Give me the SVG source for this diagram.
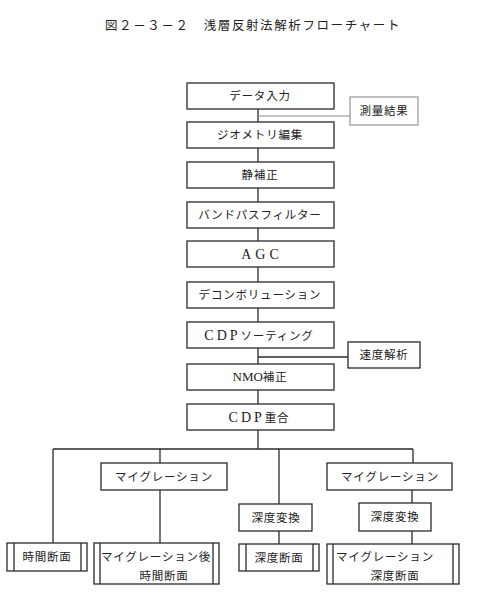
<svg xmlns="http://www.w3.org/2000/svg" width="487" height="604" viewBox="0 0 487 604">
<style>
.b{fill:#fff;stroke:#2a2a2a;stroke-width:1.3}
.g{fill:#fff;stroke:#8a8a8a;stroke-width:1.1}
.c line{stroke:#2a2a2a;stroke-width:1.3}
.t{font-family:"Noto Sans CJK JP","Liberation Sans",sans-serif;font-size:11.5px;fill:#222;text-anchor:middle;letter-spacing:0.8px}
.l{font-family:"Liberation Serif","Noto Sans CJK JP",serif;font-size:14px;fill:#222;text-anchor:middle;letter-spacing:4px}
.ti{font-family:"Noto Sans CJK JP","Liberation Sans",sans-serif;font-size:12.5px;fill:#222;letter-spacing:1.6px}
.lat{font-family:"Liberation Serif",serif;font-size:14px;letter-spacing:3px}
</style>
<rect width="487" height="604" fill="#fff"/>
<text class="ti" x="105" y="30">図２－３－２　浅層反射法解析フローチャート</text>
<g class="c" id="connectors">
<line x1="258" y1="109" x2="258" y2="122"/>
<line x1="258" y1="116" x2="350" y2="116" style="stroke:#8a8a8a;stroke-width:1.1"/>
<line x1="258" y1="148" x2="258" y2="162"/>
<line x1="258" y1="188" x2="258" y2="202"/>
<line x1="258" y1="228" x2="258" y2="241"/>
<line x1="258" y1="267" x2="258" y2="282"/>
<line x1="258" y1="308" x2="258" y2="322"/>
<line x1="258" y1="348" x2="258" y2="364"/>
<line x1="258" y1="357" x2="348" y2="357"/>
<line x1="258" y1="390" x2="258" y2="404"/>
<line x1="258" y1="430" x2="258" y2="449"/>
<line x1="53" y1="449" x2="413" y2="449"/>
<line x1="53" y1="449" x2="53" y2="543"/>
<line x1="160" y1="449" x2="160" y2="463"/>
<line x1="160" y1="490" x2="160" y2="543"/>
<line x1="279" y1="449" x2="279" y2="504"/>
<line x1="279" y1="531" x2="279" y2="544"/>
<line x1="413" y1="449" x2="413" y2="463"/>
<line x1="412" y1="490" x2="412" y2="503"/>
<line x1="412" y1="531" x2="412" y2="544"/>
</g>
<g id="n1"><rect class="b" x="187" y="83" width="147" height="26"/><text class="t" x="260" y="100">データ入力</text></g>
<g id="n_survey"><rect class="g" x="350" y="97" width="68" height="28"/><text class="t" x="384" y="115">測量結果</text></g>
<g id="n2"><rect class="b" x="187" y="122" width="147" height="26"/><text class="t" x="260" y="139">ジオメトリ編集</text></g>
<g id="n3"><rect class="b" x="187" y="162" width="147" height="26"/><text class="t" x="260" y="179">静補正</text></g>
<g id="n4"><rect class="b" x="187" y="202" width="147" height="26"/><text class="t" x="260" y="219">バンドパスフィルター</text></g>
<g id="n5"><rect class="b" x="187" y="241" width="147" height="26"/><text class="l" x="262" y="259">AGC</text></g>
<g id="n6"><rect class="b" x="187" y="282" width="147" height="26"/><text class="t" x="260" y="299">デコンボリューション</text></g>
<g id="n7"><rect class="b" x="187" y="322" width="147" height="26"/><text class="t" x="259" y="340"><tspan class="lat">CDP</tspan>ソーティング</text></g>
<g id="n_vel"><rect class="b" x="348" y="342" width="72" height="26"/><text class="t" x="384" y="359">速度解析</text></g>
<g id="n8"><rect class="b" x="187" y="364" width="147" height="26"/><text class="t" x="260" y="381"><tspan style="font-family:'Liberation Serif',serif;font-size:13px;letter-spacing:0">NMO</tspan>補正</text></g>
<g id="n9"><rect class="b" x="187" y="404" width="147" height="26"/><text class="t" x="259" y="422"><tspan class="lat">CDP</tspan>重合</text></g>
<g id="m1"><rect class="b" x="101" y="463" width="126" height="27"/><text class="t" x="164" y="481">マイグレーション</text></g>
<g id="m2"><rect class="b" x="327" y="463" width="125" height="27"/><text class="t" x="390" y="481">マイグレーション</text></g>
<g id="d1"><rect class="b" x="239" y="504" width="73" height="27"/><text class="t" x="276" y="522">深度変換</text></g>
<g id="d2"><rect class="b" x="359" y="503" width="72" height="28"/><text class="t" x="395" y="521">深度変換</text></g>
<g id="o1"><rect class="b" x="7" y="543" width="80" height="28"/><line class="b" x1="14" y1="543" x2="14" y2="571"/><line class="b" x1="81" y1="543" x2="81" y2="571"/><text class="t" x="47" y="561">時間断面</text></g>
<g id="o2"><rect class="b" x="94" y="543" width="125" height="41"/><line class="b" x1="100" y1="543" x2="100" y2="584"/><line class="b" x1="213" y1="543" x2="213" y2="584"/><text class="t" x="156" y="561">マイグレーション後</text><text class="t" x="164" y="580">時間断面</text></g>
<g id="o3"><rect class="b" x="239" y="544" width="80" height="27"/><line class="b" x1="246" y1="544" x2="246" y2="571"/><line class="b" x1="313" y1="544" x2="313" y2="571"/><text class="t" x="279" y="562">深度断面</text></g>
<g id="o4"><rect class="b" x="327" y="544" width="132" height="40"/><line class="b" x1="333" y1="544" x2="333" y2="584"/><line class="b" x1="453" y1="544" x2="453" y2="584"/><text class="t" x="385" y="561">マイグレーション</text><text class="t" x="395" y="580">深度断面</text></g>
</svg>
